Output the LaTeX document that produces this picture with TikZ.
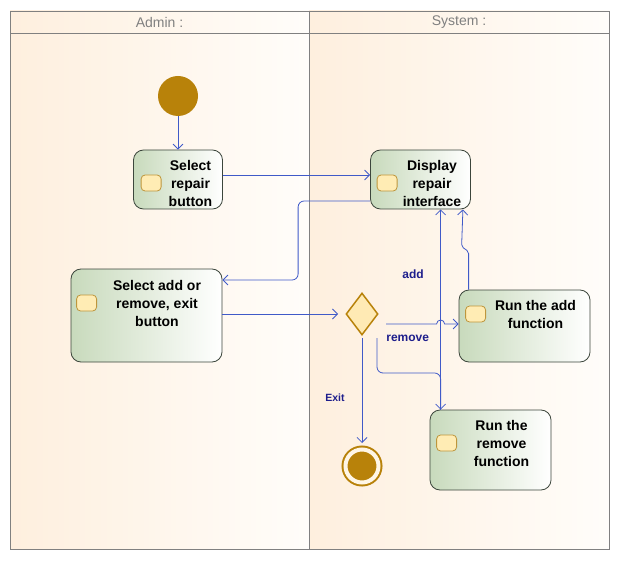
\documentclass[tikz,border=0pt]{standalone}
\usepackage{fontspec}
\setmainfont{Liberation Sans}
\usetikzlibrary{shapes.geometric,arrows.meta,positioning}

\definecolor{lanepeach}{RGB}{254,239,222}
\definecolor{lanewhite}{RGB}{255,253,250}
\definecolor{laneline}{RGB}{128,128,128}
\definecolor{actgreen}{RGB}{200,218,188}
\definecolor{actline}{RGB}{60,70,60}
\definecolor{iconfill}{RGB}{255,236,180}
\definecolor{iconline}{RGB}{190,150,60}
\definecolor{gold}{RGB}{184,130,10}
\definecolor{decfill}{RGB}{255,234,180}
\definecolor{cream}{RGB}{255,246,230}
\definecolor{flowblue}{RGB}{64,90,200}
\definecolor{lblblue}{RGB}{30,30,140}

\begin{document}
\begin{tikzpicture}[
  x=1pt, y=-1pt,
  act/.style={rectangle, rounded corners=10pt, draw=actline, line width=0.8pt, left color=actgreen, right color=white, inner sep=0pt},
  icon/.style={rectangle, rounded corners=4pt, minimum width=20pt, minimum height=16pt, inner sep=0pt, fill=iconfill, draw=iconline, line width=0.8pt},
  acttext/.style={font=\bfseries\fontsize{14}{18}\selectfont, align=center, inner sep=0pt},
  startdot/.style={circle, fill=gold, minimum size=40pt, inner sep=0pt},
  enddot/.style={circle, minimum size=33pt, inner sep=0pt, fill=gold, draw=gold, line width=2pt, double=cream, double distance=4pt},
  decision/.style={diamond, minimum width=32pt, minimum height=42pt, inner sep=0pt, fill=decfill, draw=gold, line width=1.5pt},
  lanehead/.style={font=\fontsize{14}{16}\selectfont, text=laneline},
  lbl/.style={font=\bfseries\fontsize{12}{14}\selectfont, text=lblblue, inner sep=1pt},
  flow/.style={->, >={Straight Barb[length=5pt,width=10pt]}, draw=flowblue, line width=0.8pt}
]
\useasboundingbox (0,0) rectangle (620,561);

% Lanes
\shade[left color=lanepeach, right color=lanewhite] (10,11) rectangle (309,549);
\shade[left color=lanepeach, right color=lanewhite] (309,11) rectangle (609,549);
\draw[laneline, line width=0.8pt] (10,11) rectangle (609,549) (309,11) -- (309,549) (10,33) -- (609,33);
\node[lanehead] (admin) at (159.5,22) {Admin :};
\node[lanehead] (system) at (459,22) {System :};

% Nodes
\node[startdot] (start) at (178,96) {};
\node[act, below of=start, node distance=83.5pt, minimum width=89pt, minimum height=59pt] (selrep) {};
\node[act, right of=selrep, node distance=242.5pt, minimum width=100pt, minimum height=59pt] (display) {};
\node[act, minimum width=151pt, minimum height=93pt] (seladd) at (146.5,315.5) {};
\node[act, minimum width=131pt, minimum height=72pt] (addfn) at (524.5,326) {};
\node[act, minimum width=121pt, minimum height=80pt] (remfn) at (490.5,450) {};
\node[decision] (dec) at (362,314) {};
\node[minimum size=48pt, inner sep=0pt, outer sep=0pt] (decarea) at (dec) {};
\node[enddot] (end) at (362,466) {};

\node[icon] (selrep-i) at ([xshift=18pt,yshift=-3.5pt]selrep.west) {};
\node[acttext] (selrep-t) at ([xshift=12.5pt,yshift=-3.5pt]selrep.center) {Select\\repair\\button};
\node[icon] (display-i) at ([xshift=17pt,yshift=-3.5pt]display.west) {};
\node[acttext] (display-t) at ([xshift=11.5pt,yshift=-3.5pt]display.center) {Display\\repair\\interface};
\node[icon] (seladd-i) at ([xshift=16pt,yshift=12.5pt]seladd.west) {};
\node[acttext] (seladd-t) at ([xshift=10.5pt,yshift=12.5pt]seladd.center) {Select add or\\remove, exit\\button};
\node[icon] (addfn-i) at ([xshift=17pt,yshift=12pt]addfn.west) {};
\node[acttext] (addfn-t) at ([xshift=11pt,yshift=12pt]addfn.center) {Run the add\\function};
\node[icon] (remfn-i) at ([xshift=17pt,yshift=7pt]remfn.west) {};
\node[acttext] (remfn-t) at ([xshift=11pt,yshift=7pt]remfn.center) {Run the\\remove\\function};

% Arrows
\coordinate (addin) at ([yshift=2pt]addfn.west);
\coordinate (upx) at ([xshift=11pt]remfn.north west);
\coordinate (hop) at ([xshift=-4pt]upx);
\coordinate (addup) at ([xshift=-8pt]display.south east);
\draw[flow] (start) -- (start |- selrep.north);
\draw[flow] ([yshift=4.5pt]selrep.east) -- ([yshift=4.5pt]display.west);
\draw[flow, rounded corners=6pt] ([yshift=-21.5pt]display.west) -- ++(-72,0) |- ([yshift=35.5pt]seladd.east);
\draw[flow] (seladd.east |- decarea.west) -- (decarea.west);
\draw[flow] (decarea.east |- addin) -- (hop |- addin) arc[start angle=180, end angle=360, radius=4] -- (addin);
\draw[flow, rounded corners=6pt] ([xshift=15pt]decarea.south) node[lbl, anchor=west, xshift=8pt] (remlbl) {remove} -- ++(0,35) -| (upx);
\draw[flow] (decarea.south) -- node[lbl, pos=0.57, left=16pt, font=\bfseries\fontsize{10.5}{12}\selectfont] (exitlbl) {Exit} ([yshift=23pt]end.center);
\draw[flow] (upx) -- (upx |- display.south);
\draw[flow, rounded corners=2pt] ([xshift=10pt]addfn.north west) -- ++(0,-38) -- ++(-7,-5) -- (addup);

% Labels
\node[lbl] (addlbl) at (413,274) {add};
\end{tikzpicture}
\end{document}
